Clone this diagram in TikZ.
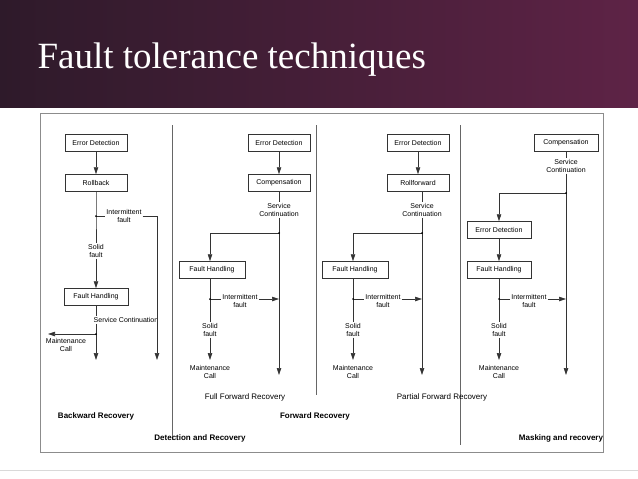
\documentclass[tikz,border=0pt]{standalone}
\usepackage{fontspec}
\setmainfont{Liberation Serif}
\newfontfamily\dsans{Liberation Sans}
\usetikzlibrary{arrows.meta}
\definecolor{plumA}{HTML}{2E1A2A}
\definecolor{plumB}{HTML}{5E2346}
\tikzset{
  bx/.style={draw=black!80,line width=0.5pt,minimum width=62pt,minimum height=17pt,inner sep=0pt,font=\dsans\fontsize{7}{7.5}\selectfont},
  lb/.style={font=\dsans\fontsize{7}{7.5}\selectfont,align=center,inner sep=1pt},
  bl/.style={font=\dsans\bfseries\fontsize{8}{9}\selectfont},
  ln/.style={draw=black!80,line width=0.6pt},
  ar/.style={ln,-{Triangle[length=7pt,width=4.5pt]}},
  dt/.style={circle,fill=black,inner sep=0pt,minimum size=2pt},
}
\begin{document}
\begin{tikzpicture}[x=1pt,y=-1pt]
\useasboundingbox (0,0) rectangle (638,479);
\fill[white] (0,0) rectangle (638,479);
\shade[left color=plumA,right color=plumB] (0,0) rectangle (638,107);
\node[anchor=west,text=white,font=\fontsize{37}{40}\selectfont] (title) at (34,60) {Fault tolerance techniques};
\draw[black!15] (0,470) -- (638,470);
\draw[black!45,line width=0.8pt] (40,113) rectangle (603,452);
\draw[black!60] (172,125) -- (172,440);
\draw[black!60] (316,125) -- (316,395);
\draw[black!60] (460,125) -- (460,445);
% Panel 1
\node[bx] (e1) at (96,143) {Error Detection};
\node[bx] (r1) at (96,183) {Rollback};
\node[bx,minimum width=64pt] (f1) at (96,297) {Fault Handling};
\coordinate (i1) at (96,216);
\node[lb] (il1) at (124,216) {Intermittent\\fault};
\coordinate (c1) at (157,216);
\coordinate (c1e) at (157,360);
\node[lb] (sf1) at (96,251) {Solid\\fault};
\node[lb] (sc1) at (126,320) {Service Continuation};
\coordinate (d1) at (96,334);
\coordinate (m1) at (48,334);
\node[lb] (mc1) at (66,345) {Maintenance\\Call};
\coordinate (end1) at (96,360);
\draw[ar] (e1) -- (r1);
\draw[ln] (r1) -- (i1) -- (sf1);
\draw[ar] (sf1) -- (f1);
\draw[ln] (i1) -- (il1.west);
\draw[ar] (il1.east) -- (c1) -- (c1e);
\draw[ln] (f1) -- (sc1.north -| f1);
\draw[ar] (sc1.south -| f1) -- (end1);
\draw[ar] (d1) -- (m1);
\node[dt] at (i1) {};
\node[dt] at (d1) {};
\node[bl] (t1) at (96,416) {Backward Recovery};
% Panel 2
\node[bx] (e2) at (279,143) {Error Detection};
\node[bx] (k2) at (279,183) {Compensation};
\node[lb] (sc2) at (279,210) {Service\\Continuation};
\coordinate (d2) at (279,233);
\coordinate (l2) at (210,233);
\node[bx,minimum width=66pt] (f2) at (212,270) {Fault Handling};
\coordinate (i2) at (210,299);
\node[lb] (il2) at (240,301) {Intermittent\\fault};
\coordinate (j2) at (279,299);
\node[lb] (sf2) at (210,330) {Solid\\fault};
\coordinate (a2) at (210,360);
\node[lb] (mc2) at (210,372) {Maintenance\\Call};
\coordinate (end2) at (279,375);
\draw[ar] (e2) -- (k2);
\draw[ln] (k2) -- (sc2);
\draw[ar] (sc2) -- (end2);
\draw[ar] (d2) -- (l2) -- (l2 |- f2.north);
\draw[ln] (l2 |- f2.south) -- (sf2);
\draw[ar] (sf2) -- (a2);
\draw[ln] (i2) -- (il2.west |- i2);
\draw[ar] (il2.east |- j2) -- (j2);
\node[dt] at (d2) {};
\node[dt] at (i2) {};
\node[font=\dsans\fontsize{8}{9}\selectfont] (t2) at (245,397) {Full Forward Recovery};
\node[bl] (t2b) at (315,416) {Forward Recovery};
\node[bl] (t2c) at (200,438) {Detection and Recovery};
% Panel 3
\node[bx] (e3) at (418,143) {Error Detection};
\node[bx] (k3) at (418,183) {Rollforward};
\node[lb] (sc3) at (422,210) {Service\\Continuation};
\coordinate (d3) at (422,233);
\coordinate (l3) at (353,233);
\node[bx,minimum width=66pt] (f3) at (355,270) {Fault Handling};
\coordinate (i3) at (353,299);
\node[lb] (il3) at (383,301) {Intermittent\\fault};
\coordinate (j3) at (422,299);
\node[lb] (sf3) at (353,330) {Solid\\fault};
\coordinate (a3) at (353,360);
\node[lb] (mc3) at (353,372) {Maintenance\\Call};
\coordinate (end3) at (422,375);
\draw[ar] (e3) -- (k3);
\draw[ln] (k3.south -| d3) -- (sc3.north -| d3);
\draw[ar] (sc3.south -| d3) -- (end3);
\draw[ar] (d3) -- (l3) -- (l3 |- f3.north);
\draw[ln] (l3 |- f3.south) -- (sf3);
\draw[ar] (sf3) -- (a3);
\draw[ln] (i3) -- (il3.west |- i3);
\draw[ar] (il3.east |- j3) -- (j3);
\node[dt] at (d3) {};
\node[dt] at (i3) {};
\node[font=\dsans\fontsize{8}{9}\selectfont] (t3) at (442,397) {Partial Forward Recovery};
% Panel 4
\node[bx,minimum width=64pt] (k4) at (566,143) {Compensation};
\node[lb] (sc4) at (566,166) {Service\\Continuation};
\coordinate (d4) at (566,193);
\coordinate (l4) at (499,193);
\node[bx,minimum width=64pt] (e4) at (499,230) {Error Detection};
\node[bx,minimum width=64pt] (f4) at (499,270) {Fault Handling};
\coordinate (i4) at (499,299);
\node[lb] (il4) at (529,301) {Intermittent\\fault};
\coordinate (j4) at (566,299);
\node[lb] (sf4) at (499,330) {Solid\\fault};
\coordinate (a4) at (499,360);
\node[lb] (mc4) at (499,372) {Maintenance\\Call};
\coordinate (end4) at (566,375);
\draw[ln] (k4) -- (sc4);
\draw[ar] (sc4) -- (end4);
\draw[ar] (d4) -- (l4) -- (e4);
\draw[ar] (e4) -- (f4);
\draw[ln] (f4) -- (sf4);
\draw[ar] (sf4) -- (a4);
\draw[ln] (i4) -- (il4.west |- i4);
\draw[ar] (il4.east |- j4) -- (j4);
\node[dt] at (d4) {};
\node[dt] at (i4) {};
\node[bl] (t4) at (561,438) {Masking and recovery};
\end{tikzpicture}
\end{document}
